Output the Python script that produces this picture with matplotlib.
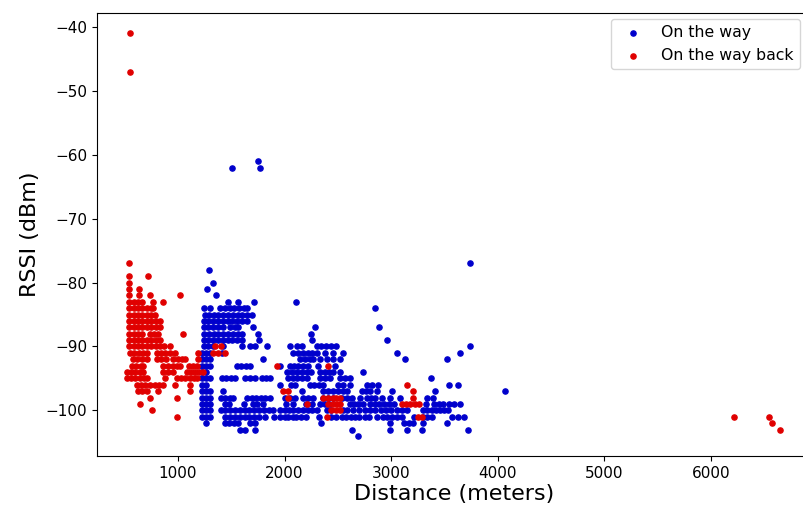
import matplotlib
matplotlib.use("Agg")
import matplotlib.pyplot as plt

# RSSI levels (dBm) and the distances (m) measured at each level
way_levels = [-61, -62, -77, -78, -80, -81, -82, -83, -84, -85, -86, -87, -88, -89,
              -90, -91, -92, -93, -94, -95, -96, -97, -98, -99, -100, -101,
              -102, -103, -104]
way_dist = [
    [1748],
    [1505, 1766],
    [3740],
    [1295],
    [1330],
    [1270],
    [1355],
    [1470, 1565, 1710, 2110],
    [1240, 1300, 1395, 1440, 1485, 1530, 1575, 1615, 1650, 2850],
    [1250, 1290, 1335, 1380, 1425, 1470, 1515, 1560, 1605, 1650, 1695],
    [1240, 1285, 1330, 1375, 1420, 1465, 1510, 1555, 1600, 1645],
    [1240, 1285, 1330, 1375, 1420, 1490, 1535, 1565, 1705, 2285, 2890],
    [1245, 1290, 1335, 1380, 1425, 1470, 1515, 1560, 1605, 1750, 2250],
    [1240, 1285, 1330, 1375, 1420, 1465, 1510, 1555, 1600, 1760, 2260, 2965],
    [1240, 1285, 1330, 1420, 1600, 1675, 1720, 1835, 2050, 2115, 2160, 2300,
     2345, 2390, 2435, 2480, 3740],
    [1225, 1265, 1300, 1410, 2080, 2125, 2170, 2215, 2260, 2300, 2380, 2455,
     2550, 3055, 3645],
    [1225, 1265, 1300, 1800, 2145, 2190, 2235, 2270, 2335, 2395, 2455, 2520,
     3125, 3520],
    [1225, 1265, 1300, 1550, 1595, 1640, 1675, 1960, 2050, 2090, 2130, 2175,
     2215, 2313, 2473],
    [1225, 1265, 2020, 2065, 2113, 2160, 2207, 2250, 2332, 2375, 2415, 2457,
     2520, 2738],
    [1225, 1265, 1300, 1410, 1455, 1500, 1535, 1630, 1675, 1720, 1790, 1830,
     1863, 2030, 2075, 2120, 2165, 2210, 2332, 2380, 2426, 2520, 2565, 2613, 3370],
    [1225, 1265, 1957, 2060, 2100, 2238, 2280, 2320, 2360, 2500, 2550, 2613,
     2770, 2820, 2876, 3545, 3630],
    [1225, 1265, 1300, 1420, 2160, 2360, 2405, 2450, 2500, 2545, 2585, 2723,
     2760, 2800, 2863, 3007, 3411, 4067],
    [1225, 1265, 1300, 1400, 1445, 1490, 1520, 1645, 1690, 1735, 1780, 1820,
     1863, 2004, 2050, 2095, 2175, 2220, 2270, 2360, 2405, 2450, 2540, 2585,
     2630, 2707, 2770, 2810, 2848, 2910, 2988, 3082, 3338, 3390],
    [1225, 1265, 1300, 1440, 1480, 1620, 1700, 1740, 1800, 2010, 2080, 2200,
     2260, 2330, 2380, 2420, 2613, 2650, 2690, 2736, 2800, 2845, 2890, 2935,
     2980, 3030, 3326, 3400, 3445, 3490, 3540, 3590, 3650],
    [1225, 1265, 1300, 1400, 1445, 1490, 1535, 1580, 1625, 1670, 1715, 1760,
     1805, 1850, 1895, 1957, 2000, 2040, 2082, 2125, 2170, 2215, 2260, 2300,
     2394, 2440, 2550, 2590, 2640, 2700, 2750, 2800, 2850, 2900, 2950, 3000,
     3050, 3100, 3150, 3300, 3340, 3380, 3420, 3457, 3495, 3533],
    [1225, 1265, 1300, 1440, 1490, 1535, 1580, 1625, 1670, 1715, 1760, 1815,
     1900, 1960, 2000, 2035, 2080, 2110, 2155, 2200, 2320, 2440, 2480, 2540,
     2580, 2620, 2660, 2700, 2750, 2790, 2870, 2920, 2960, 3010, 3050, 3100,
     3210, 3300, 3340, 3380, 3567, 3627, 3683],
    [1265, 1440, 1480, 1530, 1560, 1680, 1720, 2340, 2988, 3120, 3170, 3200,
     3300, 3521],
    [1580, 1625, 1720, 2630, 2988, 3145, 3285, 3723],
    [2690],
]

back_levels = [-41, -47, -77, -79, -80, -81, -82, -83, -84, -85, -86, -87, -88,
               -89, -90, -91, -92, -93, -94, -95, -96, -97, -98, -99, -100,
               -101, -102, -103]
back_dist = [
    [550],
    [550],
    [545],
    [545, 720],
    [545],
    [545, 630],
    [545, 630, 737, 1020],
    [545, 585, 625, 665, 768, 862],
    [545, 585, 625, 665, 705, 745, 770],
    [545, 585, 625, 665, 705, 745, 785],
    [545, 585, 625, 665, 705, 745, 790, 830],
    [545, 585, 625, 665, 705, 745, 790, 830],
    [545, 585, 625, 665, 737, 777, 815, 1044],
    [545, 585, 625, 665, 705, 745, 790, 830],
    [545, 585, 625, 665, 705, 745, 790, 830, 870, 925, 1350, 1400],
    [550, 590, 630, 670, 706, 800, 840, 880, 925, 970, 1190, 1330, 1380, 1440],
    [580, 620, 660, 706, 800, 845, 890, 956, 1000, 1040, 1066, 1190],
    [565, 610, 650, 675, 862, 905, 950, 988, 1019, 1100, 1140, 1175, 1925, 2410],
    [520, 560, 600, 640, 675, 862, 910, 956, 1081, 1120, 1160, 1200, 1237],
    [520, 560, 600, 640, 680, 706, 878, 988, 1030, 1070, 1113, 1150, 1175],
    [615, 655, 695, 735, 780, 820, 860, 972, 1113, 3150],
    [625, 665, 706, 812, 1113, 1988, 2035, 3200],
    [737, 988, 2035, 2360, 2405, 2450, 2480, 2520, 3207],
    [643, 2207, 2410, 2450, 2490, 2520, 3100, 3140, 3180, 3220, 3260],
    [753, 2440, 2480, 2520],
    [988, 2395, 3254, 3286, 6220, 6545],
    [6575],
    [6645],
]


def flatten(levels, dists):
    xs, ys = [], []
    for lv, row in zip(levels, dists):
        for d in row:
            xs.append(d)
            ys.append(lv)
    return xs, ys


way_x, way_y = flatten(way_levels, way_dist)
back_x, back_y = flatten(back_levels, back_dist)

fig = plt.figure(figsize=(8.04, 5.09), dpi=100)
# right spine sits just outside the picture, as in the cropped original
ax = fig.add_axes([0.1206, 0.1041, 0.8897, 0.8697])

ax.scatter(way_x, way_y, s=14, c="#0000cc", label="On the way")
ax.scatter(back_x, back_y, s=14, c="#e00000", label="On the way back")

ax.set_xlim(240, 6950)
ax.set_ylim(-107.15, -37.85)
ax.set_xlabel("Distance (meters)", fontsize=16, labelpad=2)
ax.set_ylabel("RSSI (dBm)", fontsize=16)
ax.tick_params(labelsize=11)

ax.legend(loc="upper right", bbox_to_anchor=(800 / 804, 1 - 19 / 509),
          bbox_transform=fig.transFigure, borderaxespad=0, fontsize=11.3)

plt.savefig("out.png", dpi=100)
